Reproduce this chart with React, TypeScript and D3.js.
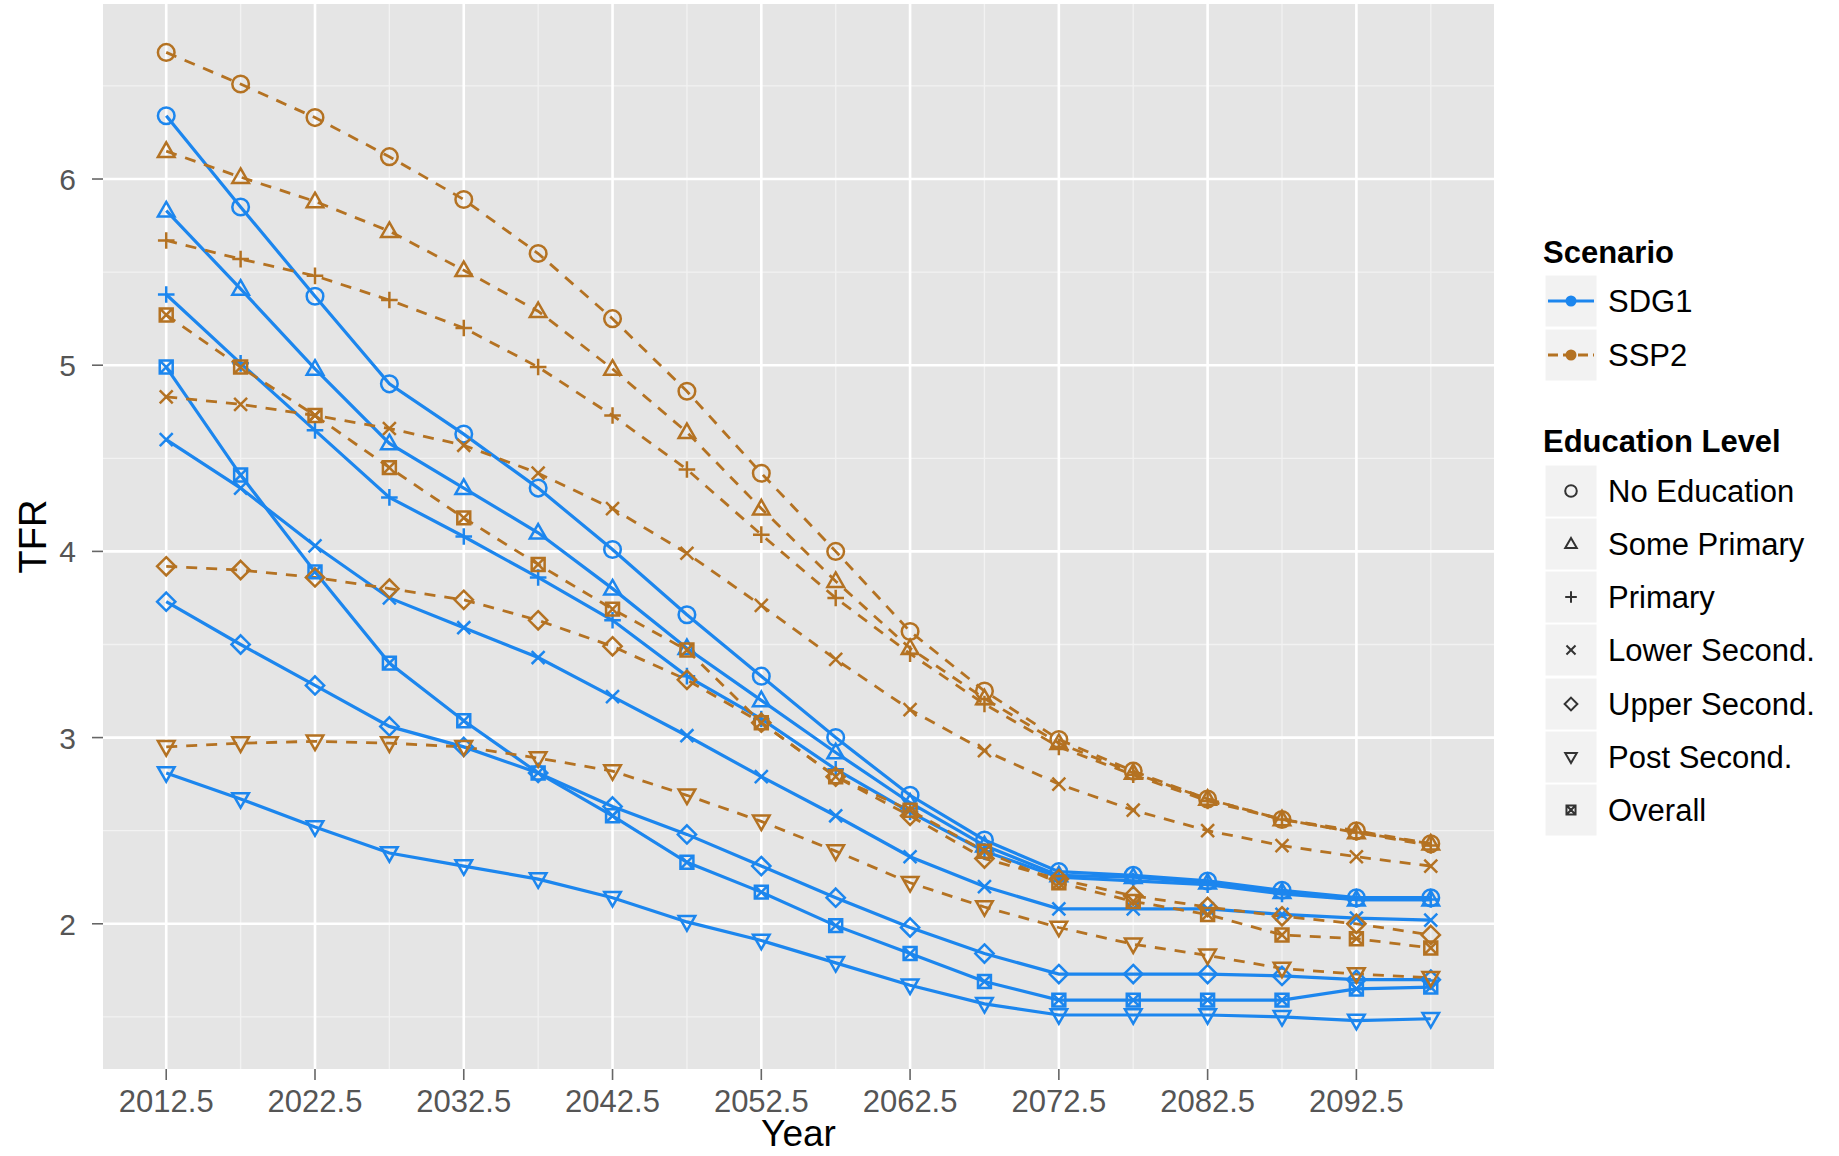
import React from 'react';
import { scaleLinear, line, min, max } from 'd3';

const width = 1839;
const height = 1156;
const panel = { left: 103, right: 1494, top: 4, bottom: 1069 };

// data points every 5 years
const years = [2012.5, 2017.5, 2022.5, 2027.5, 2032.5, 2037.5, 2042.5, 2047.5, 2052.5,
  2057.5, 2062.5, 2067.5, 2072.5, 2077.5, 2082.5, 2087.5, 2092.5, 2097.5];
const xTicks = [2012.5, 2022.5, 2032.5, 2042.5, 2052.5, 2062.5, 2072.5, 2082.5, 2092.5];
const xMinor = [2017.5, 2027.5, 2037.5, 2047.5, 2057.5, 2067.5, 2077.5, 2087.5, 2097.5];
const yTicks = [2, 3, 4, 5, 6];
const yMinor = [1.5, 2.5, 3.5, 4.5, 5.5, 6.5];

const scenarios = ['SDG1', 'SSP2'];
const levels = ['No Education', 'Some Primary', 'Primary', 'Lower Second.', 'Upper Second.', 'Post Second.', 'Overall'];
const shapes = ['circle', 'triangle', 'plus', 'cross', 'diamond', 'triangleDown', 'squareX'];

// SDG1
const sdg1NoEd = [6.34, 5.85, 5.37, 4.90, 4.63, 4.34, 4.01, 3.66, 3.33, 3.00, 2.69, 2.45, 2.28, 2.26, 2.23, 2.18, 2.14, 2.14];
const sdg1SomePrim = [5.83, 5.41, 4.98, 4.58, 4.34, 4.10, 3.80, 3.48, 3.20, 2.92, 2.65, 2.42, 2.26, 2.25, 2.22, 2.17, 2.13, 2.13];
const sdg1Primary = [5.38, 5.01, 4.65, 4.29, 4.08, 3.86, 3.63, 3.33, 3.10, 2.83, 2.60, 2.39, 2.25, 2.23, 2.21, 2.16, 2.13, 2.13];
const sdg1LowerSec = [4.60, 4.34, 4.03, 3.75, 3.59, 3.43, 3.22, 3.01, 2.79, 2.58, 2.36, 2.20, 2.08, 2.08, 2.08, 2.05, 2.03, 2.02];
const sdg1UpperSec = [3.73, 3.50, 3.28, 3.06, 2.95, 2.81, 2.63, 2.48, 2.31, 2.14, 1.98, 1.84, 1.73, 1.73, 1.73, 1.72, 1.70, 1.70];
const sdg1PostSec = [2.81, 2.67, 2.52, 2.38, 2.31, 2.24, 2.14, 2.01, 1.91, 1.79, 1.67, 1.57, 1.51, 1.51, 1.51, 1.50, 1.48, 1.49];
const sdg1Overall = [4.99, 4.41, 3.89, 3.40, 3.09, 2.81, 2.58, 2.33, 2.17, 1.99, 1.84, 1.69, 1.59, 1.59, 1.59, 1.59, 1.65, 1.66];

// SSP2
const ssp2NoEd = [6.68, 6.51, 6.33, 6.12, 5.89, 5.60, 5.25, 4.86, 4.42, 4.00, 3.57, 3.25, 2.99, 2.82, 2.67, 2.56, 2.50, 2.43];
const ssp2SomePrim = [6.15, 6.01, 5.88, 5.72, 5.51, 5.29, 4.98, 4.64, 4.23, 3.84, 3.48, 3.21, 2.97, 2.81, 2.67, 2.56, 2.49, 2.43];
const ssp2Primary = [5.67, 5.57, 5.48, 5.35, 5.20, 4.99, 4.73, 4.44, 4.09, 3.75, 3.45, 3.18, 2.95, 2.80, 2.66, 2.56, 2.49, 2.42];
const ssp2LowerSec = [4.83, 4.79, 4.73, 4.66, 4.57, 4.42, 4.23, 3.99, 3.71, 3.42, 3.15, 2.93, 2.75, 2.61, 2.50, 2.42, 2.36, 2.31];
const ssp2UpperSec = [3.92, 3.90, 3.86, 3.80, 3.74, 3.63, 3.49, 3.31, 3.08, 2.79, 2.58, 2.35, 2.24, 2.15, 2.09, 2.04, 2.00, 1.94];
const ssp2PostSec = [2.95, 2.97, 2.98, 2.97, 2.95, 2.89, 2.82, 2.69, 2.55, 2.39, 2.22, 2.09, 1.98, 1.89, 1.83, 1.76, 1.73, 1.71];
const ssp2Overall = [5.27, 4.99, 4.73, 4.45, 4.18, 3.93, 3.69, 3.47, 3.08, 2.79, 2.61, 2.39, 2.22, 2.12, 2.05, 1.94, 1.92, 1.87];

const sdg1 = [sdg1NoEd, sdg1SomePrim, sdg1Primary, sdg1LowerSec, sdg1UpperSec, sdg1PostSec, sdg1Overall];
const ssp2 = [ssp2NoEd, ssp2SomePrim, ssp2Primary, ssp2LowerSec, ssp2UpperSec, ssp2PostSec, ssp2Overall];

const colors = { SDG1: '#1C86EE', SSP2: '#B47222' };
const font = '"Liberation Sans", Arial, sans-serif';

function shapePath(shape: string, r: number) {
  const s = r * 0.78;
  switch (shape) {
    case 'circle':
      return `M${-r},0a${r},${r} 0 1,0 ${2 * r},0a${r},${r} 0 1,0 ${-2 * r},0Z`;
    case 'triangle':
      return `M0,${-r * 1.05}L${r},${r * 0.7}L${-r},${r * 0.7}Z`;
    case 'triangleDown':
      return `M0,${r * 1.05}L${r},${-r * 0.7}L${-r},${-r * 0.7}Z`;
    case 'plus':
      return `M${-r},0H${r}M0,${-r}V${r}`;
    case 'cross':
      return `M${-s},${-s}L${s},${s}M${s},${-s}L${-s},${s}`;
    case 'diamond':
      return `M0,${-r * 1.1}L${r * 1.1},0L0,${r * 1.1}L${-r * 1.1},0Z`;
    default:
      return `M${-s},${-s}H${s}V${s}H${-s}ZM${-s},${-s}L${s},${s}M${s},${-s}L${-s},${s}`;
  }
}

export default function App() {
  const all = [...sdg1, ...ssp2].flat();
  const lo = min(all) as number;
  const hi = max(all) as number;
  const yPad = (hi - lo) * 0.05;
  const xPad = (years[years.length - 1] - years[0]) * 0.05;

  const x = scaleLinear().domain([years[0] - xPad, years[years.length - 1] + xPad]).range([panel.left, panel.right]);
  const y = scaleLinear().domain([lo - yPad, hi + yPad]).range([panel.bottom, panel.top]);

  const lineGen = line<number>().x((_, i) => x(years[i])).y((d) => y(d));

  const series = [
    ...sdg1.map((vals, i) => ({ scenario: 'SDG1', level: i, vals })),
    ...ssp2.map((vals, i) => ({ scenario: 'SSP2', level: i, vals })),
  ];

  const legendX = 1545;
  const scenRows = [301, 355];
  const eduRows = [491, 544, 597, 650, 704, 757, 810];

  return (
    <svg width={width} height={height} style={{ position: 'absolute', left: 0, top: 0, background: '#fff' }} fontFamily={font}>
      <rect x={panel.left} y={panel.top} width={panel.right - panel.left} height={panel.bottom - panel.top} fill="#E5E5E5" />
      {xMinor.map((t) => (
        <line key={'xm' + t} x1={x(t)} x2={x(t)} y1={panel.top} y2={panel.bottom} stroke="#F2F2F2" strokeWidth={1.3} />
      ))}
      {yMinor.map((t) => (
        <line key={'ym' + t} x1={panel.left} x2={panel.right} y1={y(t)} y2={y(t)} stroke="#F2F2F2" strokeWidth={1.3} />
      ))}
      {xTicks.map((t) => (
        <line key={'xg' + t} x1={x(t)} x2={x(t)} y1={panel.top} y2={panel.bottom} stroke="#fff" strokeWidth={2.6} />
      ))}
      {yTicks.map((t) => (
        <line key={'yg' + t} x1={panel.left} x2={panel.right} y1={y(t)} y2={y(t)} stroke="#fff" strokeWidth={2.6} />
      ))}

      {series.map((s) => (
        <path
          key={'l' + s.scenario + s.level}
          d={lineGen(s.vals) as string}
          fill="none"
          stroke={colors[s.scenario]}
          strokeWidth={s.scenario === 'SDG1' ? 3.2 : 2.8}
          strokeDasharray={s.scenario === 'SSP2' ? '11,9' : undefined}
        />
      ))}
      {series.map((s) =>
        s.vals.map((v, i) => (
          <path
            key={'p' + s.scenario + s.level + i}
            transform={`translate(${x(years[i])},${y(v)})`}
            d={shapePath(shapes[s.level], 8.3)}
            fill="none"
            stroke={colors[s.scenario]}
            strokeWidth={2.5}
          />
        ))
      )}

      {/* axes */}
      {yTicks.map((t) => (
        <g key={'yt' + t}>
          <line x1={92} x2={panel.left} y1={y(t)} y2={y(t)} stroke="#666" strokeWidth={1.6} />
          <text x={76} y={y(t) + 11} textAnchor="end" fontSize={30} fill="#555">{t}</text>
        </g>
      ))}
      {xTicks.map((t) => (
        <g key={'xt' + t}>
          <line x1={x(t)} x2={x(t)} y1={panel.bottom} y2={panel.bottom + 11} stroke="#666" strokeWidth={1.6} />
          <text x={x(t)} y={1112} textAnchor="middle" fontSize={31} fill="#555">{t.toFixed(1)}</text>
        </g>
      ))}
      <text x={(panel.left + panel.right) / 2} y={1146} textAnchor="middle" fontSize={37} fill="#000">Year</text>
      <text transform={`translate(46,${(panel.top + panel.bottom) / 2}) rotate(-90)`} textAnchor="middle" fontSize={38} fill="#000">TFR</text>

      {/* legend: scenario */}
      <text x={legendX - 2} y={263} fontSize={31} fontWeight="bold" fill="#000">Scenario</text>
      {scenarios.map((sc, i) => (
        <g key={'ls' + sc}>
          <rect x={legendX} y={scenRows[i] - 26} width={52} height={52} fill="#F2F2F2" stroke="#fff" strokeWidth={1} />
          <line x1={legendX + 3} x2={legendX + 49} y1={scenRows[i]} y2={scenRows[i]} stroke={colors[sc]} strokeWidth={3}
            strokeDasharray={sc === 'SSP2' ? '10,5' : undefined} />
          <circle cx={legendX + 26} cy={scenRows[i]} r={5.5} fill={colors[sc]} />
          <text x={1608} y={scenRows[i] + 11} fontSize={31} fill="#000">{sc}</text>
        </g>
      ))}

      {/* legend: education */}
      <text x={legendX - 2} y={452} fontSize={31} fontWeight="bold" fill="#000">Education Level</text>
      {levels.map((lv, i) => (
        <g key={'le' + lv}>
          <rect x={legendX} y={eduRows[i] - 26} width={52} height={52} fill="#F2F2F2" stroke="#fff" strokeWidth={1} />
          <path transform={`translate(${legendX + 26},${eduRows[i]})`} d={shapePath(shapes[i], 5.8)} fill="none" stroke="#333" strokeWidth={2} />
          <text x={1608} y={eduRows[i] + 11} fontSize={31} fill="#000">{lv}</text>
        </g>
      ))}
    </svg>
  );
}
